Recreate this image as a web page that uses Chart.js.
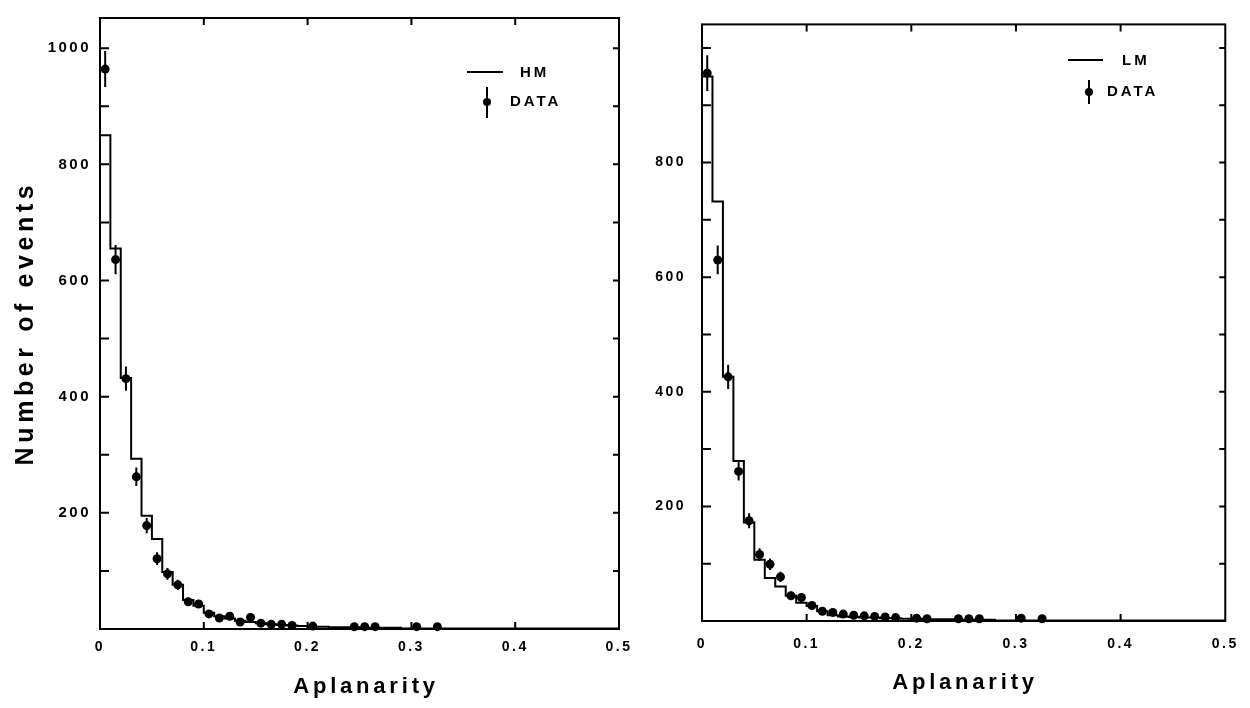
<!DOCTYPE html>
<html>
<head>
<meta charset="utf-8">
<script src="https://cdn.jsdelivr.net/npm/chart.js@4.4.0/dist/chart.umd.min.js"></script>
<style>
  html, body { margin: 0; padding: 0; background: #fff; }
  #wrap { position: relative; width: 1250px; height: 708px; overflow: hidden; }
  canvas { position: absolute; top: 0; }
  #hmChart { left: 0; }
  #lmChart { left: 630px; }
</style>
</head>
<body>
<div id="wrap">
  <canvas id="hmChart" width="650" height="708"></canvas>
  <canvas id="lmChart" width="620" height="708"></canvas>
</div>
<script>
// bin edges of the MC histograms (0.01 wide, last bin runs to the end of the axis)
const binEdges = [0, 0.01, 0.02, 0.03, 0.04, 0.05, 0.06, 0.07, 0.08, 0.09, 0.10,
  0.11, 0.12, 0.13, 0.14, 0.15, 0.16, 0.17, 0.18, 0.19, 0.20,
  0.21, 0.22, 0.23, 0.24, 0.25, 0.26, 0.27, 0.28, 0.29, 0.30, 0.50];

// HM model (left) and LM model (right), one count per bin
const hmCounts = [850, 655, 432, 293, 195, 155, 98, 76, 50, 40, 28, 22, 18, 14, 12, 10,
  8, 7, 6, 5, 4, 4, 3, 3, 3, 2, 2, 2, 2, 1, 1];
const lmCounts = [950, 732, 426, 279, 172, 107, 75, 60, 44, 32, 26, 17, 10, 8, 7, 6,
  6, 5, 5, 4, 4, 3, 3, 3, 2, 2, 2, 2, 1, 1, 1];

// measured data points
const hmDataX = [0.005, 0.015, 0.025, 0.035, 0.045, 0.055, 0.065, 0.075, 0.085, 0.095,
  0.105, 0.115, 0.125, 0.135, 0.145, 0.155, 0.165, 0.175, 0.185, 0.205,
  0.245, 0.255, 0.265, 0.305, 0.325];
const hmDataY = [964, 636, 431, 262, 178, 121, 95, 76, 47, 43, 26, 19, 22, 12, 20, 10,
  8, 8, 6, 5, 4, 4, 4, 4, 4];
const hmDataErr = [31, 25, 21, 16, 13, 11, 10, 9, 7, 7, 5, 4, 5, 3, 4, 3, 3, 3, 2, 2,
  2, 2, 2, 2, 2];

const lmDataX = [0.005, 0.015, 0.025, 0.035, 0.045, 0.055, 0.065, 0.075, 0.085, 0.095,
  0.105, 0.115, 0.125, 0.135, 0.145, 0.155, 0.165, 0.175, 0.185, 0.205,
  0.215, 0.245, 0.255, 0.265, 0.305, 0.325];
const lmDataY = [956, 630, 426, 261, 175, 116, 99, 77, 44, 41, 27, 17, 15, 12, 10, 9,
  8, 7, 6, 5, 4, 4, 4, 4, 5, 4];
const lmDataErr = [31, 25, 21, 16, 13, 11, 10, 9, 7, 6, 5, 4, 4, 3, 3, 3, 3, 3, 2, 2,
  2, 2, 2, 2, 2, 2];

// axes
const xTicks = [0, 0.1, 0.2, 0.3, 0.4, 0.5];
const xTickLabels = ['0', '0.1', '0.2', '0.3', '0.4', '0.5'];
const hmYTicks = [200, 400, 600, 800, 1000];
const lmYTicks = [200, 400, 600, 800];
const yMinorTicks = [100, 200, 300, 400, 500, 600, 700, 800, 900, 1000];

const xTitle = 'Aplanarity';
const yTitle = 'Number of events';

const FONT = '"Liberation Sans", Arial, sans-serif';

// box round the plot with inward ticks on all four sides
const framePlugin = {
  id: 'frame',
  afterDraw(chart) {
    const { ctx, chartArea: a, scales: { x, y } } = chart;
    ctx.save();
    ctx.strokeStyle = '#000';
    ctx.lineWidth = 2;
    ctx.strokeRect(a.left, a.top, a.width, a.height);
    ctx.beginPath();
    yMinorTicks.forEach(v => {
      if (v >= y.max) return;
      const py = y.getPixelForValue(v);
      ctx.moveTo(a.left, py); ctx.lineTo(a.left + 9, py);
      ctx.moveTo(a.right, py); ctx.lineTo(a.right - 6, py);
    });
    xTicks.forEach(v => {
      if (v <= x.min || v >= x.max) return;
      const px = x.getPixelForValue(v);
      ctx.moveTo(px, a.bottom); ctx.lineTo(px, a.bottom - 7);
      ctx.moveTo(px, a.top); ctx.lineTo(px, a.top + 7);
    });
    ctx.stroke();
    ctx.restore();
  }
};

// vertical error bars on the data points
const errorBarPlugin = {
  id: 'errorBars',
  afterDatasetsDraw(chart) {
    const { ctx, scales: { y } } = chart;
    chart.data.datasets.forEach((ds, i) => {
      if (!ds.errors) return;
      const meta = chart.getDatasetMeta(i);
      ctx.save();
      ctx.strokeStyle = '#000';
      ctx.lineWidth = 2;
      ctx.beginPath();
      meta.data.forEach((pt, j) => {
        const v = ds.data[j].y, e = ds.errors[j];
        ctx.moveTo(pt.x, y.getPixelForValue(v + e));
        ctx.lineTo(pt.x, y.getPixelForValue(Math.max(0, v - e)));
      });
      ctx.stroke();
      ctx.restore();
    });
  }
};

// spaced-out lettering as in the printed figure, titles and legend
const textPlugin = {
  id: 'paperText',
  beforeDraw(chart) {
    chart.ctx.letterSpacing = '2.5px';
  },
  afterDraw(chart, args, o) {
    const ctx = chart.ctx;
    const [mc, data] = chart.data.datasets;
    ctx.save();
    ctx.fillStyle = '#000';
    ctx.strokeStyle = '#000';

    // axis titles
    ctx.font = 'bold 22px ' + FONT;
    ctx.letterSpacing = '3.8px';
    ctx.textAlign = 'center';
    ctx.textBaseline = 'alphabetic';
    ctx.fillText(xTitle, o.xTitleX, o.xTitleY);
    if (o.yTitle) {
      ctx.save();
      ctx.font = 'bold 25px ' + FONT;
      ctx.letterSpacing = '4.6px';
      ctx.translate(o.yTitleX, o.yTitleY);
      ctx.rotate(-Math.PI / 2);
      ctx.fillText(yTitle, 0, 0);
      ctx.restore();
    }

    // legend
    const L = o.legend;
    ctx.lineWidth = 2;
    ctx.beginPath();
    ctx.moveTo(L.lineX1, L.lineY); ctx.lineTo(L.lineX2, L.lineY);
    ctx.moveTo(L.dotX, L.barTop); ctx.lineTo(L.dotX, L.barBottom);
    ctx.stroke();
    ctx.beginPath();
    ctx.arc(L.dotX, L.dotY, 4, 0, Math.PI * 2);
    ctx.fill();
    ctx.font = 'bold 15px ' + FONT;
    ctx.letterSpacing = '3px';
    ctx.textAlign = 'left';
    ctx.textBaseline = 'middle';
    ctx.fillText(mc.label, L.mcTextX, L.lineY + 1);
    ctx.fillText(data.label, L.dataTextX, L.dotY);
    ctx.restore();
  }
};

function buildPanel(canvasId, p) {
  const tickFont = { family: FONT, weight: 'bold' };
  return new Chart(document.getElementById(canvasId), {
    type: 'scatter',
    data: {
      datasets: [
        {
          type: 'line',
          label: p.mcLabel,
          data: binEdges.map((e, i) => ({ x: e, y: p.counts[Math.min(i, p.counts.length - 1)] })),
          stepped: 'before',
          borderColor: '#000',
          borderWidth: 2,
          pointRadius: 0,
          fill: false,
          clip: false
        },
        {
          type: 'scatter',
          label: 'DATA',
          data: p.dataX.map((x, i) => ({ x, y: p.dataY[i] })),
          errors: p.dataErr,
          pointRadius: 4.5,
          backgroundColor: '#000',
          borderWidth: 0,
          clip: false
        }
      ]
    },
    options: {
      responsive: false,
      animation: false,
      devicePixelRatio: 1,
      layout: { padding: { left: 0, right: p.padRight, top: p.padTop, bottom: 0 } },
      plugins: {
        legend: { display: false },
        tooltip: { enabled: false },
        paperText: p.text
      },
      scales: {
        x: {
          type: 'linear',
          min: 0,
          max: 0.5,
          afterFit: s => { s.height = p.xAxisH; },
          afterBuildTicks: s => { s.ticks = xTicks.map(v => ({ value: v })); },
          grid: { display: false, drawTicks: false },
          border: { display: false },
          ticks: {
            autoSkip: false,
            maxRotation: 0,
            padding: p.xPad,
            color: '#000',
            font: { ...tickFont, size: 14 },
            callback: (v, i) => xTickLabels[i]
          }
        },
        y: {
          min: 0,
          max: p.yMax,
          afterFit: s => { s.width = p.yAxisW; },
          afterBuildTicks: s => { s.ticks = p.yTicks.map(v => ({ value: v })); },
          grid: { display: false, drawTicks: false },
          border: { display: false },
          ticks: {
            padding: p.yPad,
            color: '#000',
            font: { ...tickFont, size: p.yFontSize },
            callback: (v, i) => String(p.yTicks[i])
          }
        }
      }
    },
    plugins: [framePlugin, errorBarPlugin, textPlugin]
  });
}

buildPanel('hmChart', {
  mcLabel: 'HM',
  counts: hmCounts,
  dataX: hmDataX, dataY: hmDataY, dataErr: hmDataErr,
  yTicks: hmYTicks,
  yMax: 1052,
  yAxisW: 100, padRight: 31, padTop: 18, xAxisH: 79,
  xPad: 10, yPad: 9, yFontSize: 15,
  text: {
    xTitleX: 366, xTitleY: 693,
    yTitle: true, yTitleX: 33, yTitleY: 323,
    legend: { lineX1: 467, lineX2: 503, lineY: 72, mcTextX: 520,
      dotX: 487, dotY: 102, barTop: 87, barBottom: 118, dataTextX: 510 }
  }
});

buildPanel('lmChart', {
  mcLabel: 'LM',
  counts: lmCounts,
  dataX: lmDataX, dataY: lmDataY, dataErr: lmDataErr,
  yTicks: lmYTicks,
  yMax: 1041,
  yAxisW: 72, padRight: 24, padTop: 10, xAxisH: 87,
  xPad: 15, yPad: 16, yFontSize: 14,
  text: {
    xTitleX: 335, xTitleY: 689,
    yTitle: false,
    legend: { lineX1: 438, lineX2: 473, lineY: 60, mcTextX: 492,
      dotX: 459, dotY: 92, barTop: 80, barBottom: 104, dataTextX: 477 }
  }
});
</script>
</body>
</html>
